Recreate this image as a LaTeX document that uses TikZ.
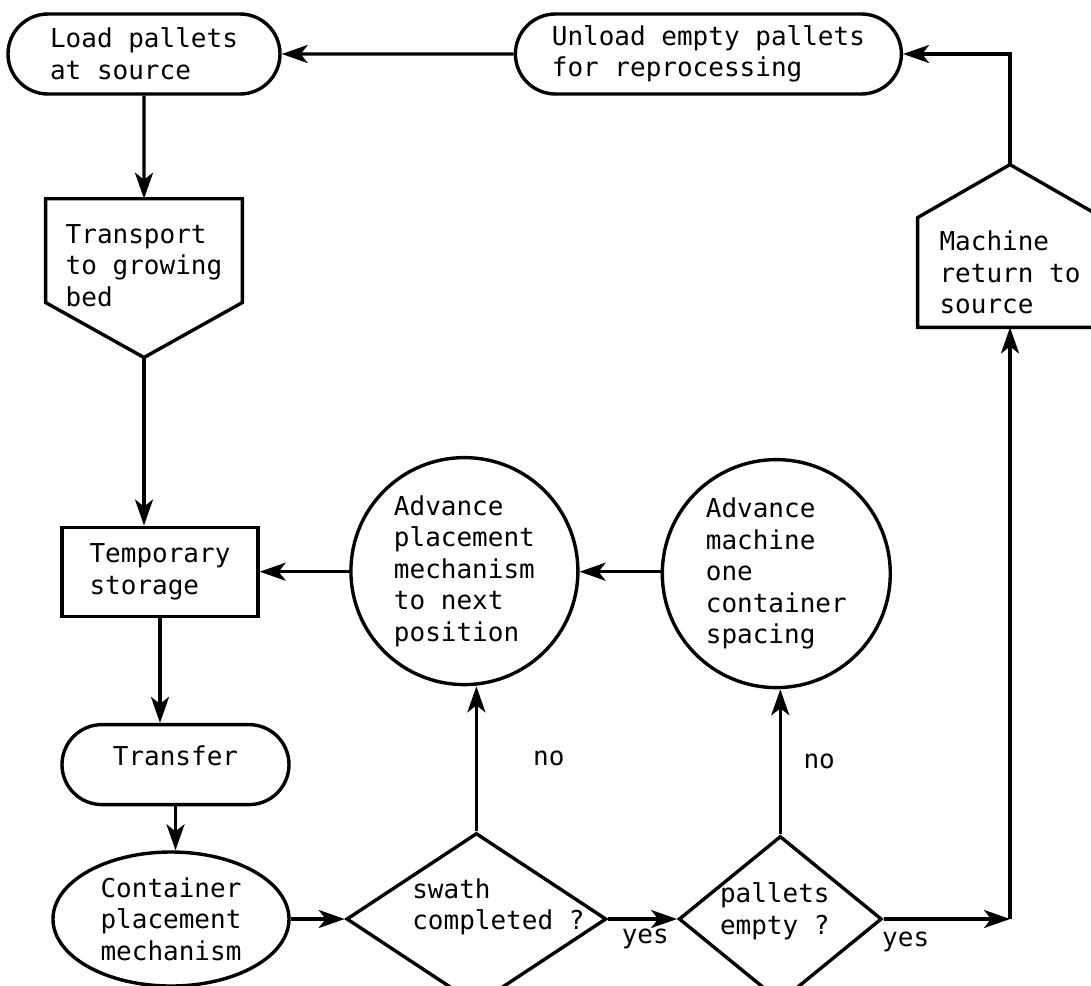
\documentclass[tikz,border=0pt]{standalone}
\usepackage{fontspec}
\usepackage{tikz}
\usetikzlibrary{shapes,arrows.meta,positioning,calc}
\newfontfamily\flowfont{DejaVu Sans Mono}

\begin{document}
\begin{tikzpicture}[
    txt/.style={font=\flowfont\fontsize{13pt}{15.8pt}\selectfont},
    terminal/.style={rounded rectangle, draw, line width=1.7pt, txt, align=left, minimum height=40pt, inner sep=0pt},
    process/.style={rectangle, draw, line width=1.7pt, txt, align=left, inner sep=0pt},
    offpage/.style={rectangle, txt, align=left, inner sep=0pt},
    pentline/.style={line width=1.7pt},
    action/.style={circle, draw, line width=1.7pt, txt, align=left, inner sep=0pt},
    oval/.style={ellipse, draw, line width=1.7pt, txt, align=left, inner sep=0pt},
    decision/.style={diamond, draw, line width=1.7pt, inner sep=0pt},
    dtext/.style={txt, align=left, inner sep=0pt},
    lbl/.style={txt, inner sep=0pt},
    arrow/.style={-{Stealth[length=13pt, width=9pt, inset=3.5pt]}, line width=1.7pt}
]
    \useasboundingbox[fill=white] (0,0) rectangle (545.5pt,-492.5pt);

    \node[terminal, minimum width=136pt] (load) at (72pt,-27pt) {Load pallets\\at source};
    \node[terminal, minimum width=193pt, right=116pt of load] (unload) {Unload empty pallets\\for reprocessing};
    \node[offpage, minimum width=98pt, minimum height=66.5pt, below=51.5pt of load] (trans) {Transport\\to growing\\bed};
    \coordinate[below=12.5pt of trans.south] (trans tip);
    \draw[pentline] (trans.north west) -- (trans.north east) -- ([yshift=15pt]trans.south east) -- (trans tip) -- ([yshift=15pt]trans.south west) -- cycle;
    \node[process, minimum width=98pt, minimum height=44.5pt, below=84pt of trans tip, xshift=8pt] (temp) {Temporary\\storage};
    \node[terminal, minimum width=113.5pt, text depth=9pt, below=52.5pt of temp, xshift=7.75pt] (transfer) {Transfer};
    \node[oval, minimum width=118pt, minimum height=67pt, below=22pt of transfer, xshift=-2.25pt] (cont) {Container\\placement\\mechanism};
    \node[decision, minimum width=130pt, minimum height=86pt, right=27pt of cont,
          label={[dtext, xshift=11pt, yshift=6pt]center:swath\\completed ?}] (swath) {};
    \node[decision, minimum width=101.5pt, minimum height=83pt, right=34.5pt of swath,
          label={[dtext, xshift=-2.75pt, yshift=4pt]center:pallets\\empty ?}] (pe) {};
    \node[action, minimum size=113.5pt, above=72.5pt of swath, xshift=-6pt] (adv1) {Advance\\placement\\mechanism\\to next\\position};
    \node[action, minimum size=114pt, above=72.5pt of pe, xshift=-2pt] (adv2) {Advance\\machine\\one\\container\\spacing};
    \node[offpage, minimum width=92pt, minimum height=54.5pt] (ret) at (505pt,-136.25pt) {Machine\\return to\\source};
    \coordinate[above=26.5pt of ret.north] (ret tip);
    \draw[pentline] (ret.south west) -- (ret.south east) -- (ret.north east) -- (ret tip) -- (ret.north west) -- cycle;
    \coordinate (corner) at (ret.south |- pe.east);

    \draw[arrow] (unload) -- (load);
    \draw[arrow] (load) -- (trans);
    \draw[arrow] (trans tip) -- (trans tip |- temp.north);
    \draw[arrow] (temp.south) -- (temp.south |- transfer.north);
    \draw[arrow] (transfer.south) -- (transfer.south |- cont.north);
    \draw[arrow] (cont) -- (swath);
    \draw[arrow] (swath) -- (pe) node[lbl, pos=0, below right=4pt and 6pt] {yes};
    \draw[arrow] (swath.north) -- (swath.north |- adv1.south) node[lbl, pos=.5, right=27.5pt] {no};
    \draw[arrow] (pe.north) -- (pe.north |- adv2.south) node[lbl, pos=.5, right=10.75pt] {no};
    \draw[arrow] (temp.east -| adv2.west) -- (temp.east -| adv1.east);
    \draw[arrow] (temp.east -| adv1.west) -- (temp.east);
    \draw[arrow] (pe) -- (corner) node[lbl, pos=0, below right=5.5pt and -1.5pt] {yes};
    \draw[arrow] (corner) -- (ret.south);
    \draw[arrow] (ret tip) |- (unload.east);
\end{tikzpicture}
\end{document}
